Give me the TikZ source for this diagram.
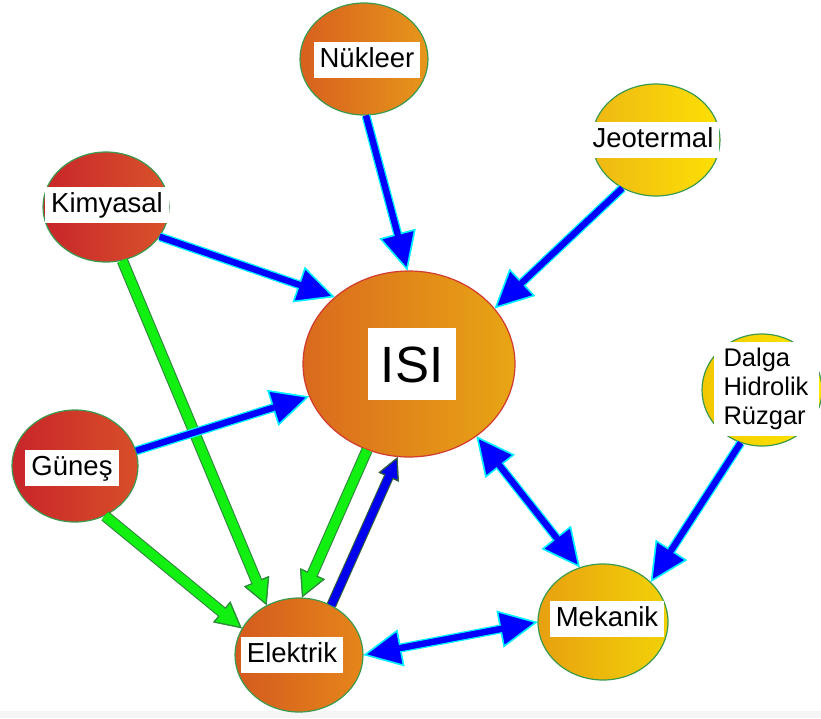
\documentclass[tikz,border=0pt]{standalone}
\usepackage{fontspec}
\setmainfont{Liberation Sans}
\usetikzlibrary{shapes.geometric,arrows.meta}
\definecolor{cgreen}{HTML}{3C9A50}
\definecolor{cred}{HTML}{D03A30}
\definecolor{agreen}{HTML}{11F011}
\definecolor{gdark}{HTML}{2E8B3C}
\definecolor{dblue}{HTML}{0000EE}
\definecolor{dkout}{HTML}{2F5F3F}
\definecolor{bblue}{HTML}{0000FF}
\definecolor{bcyan}{HTML}{00F0FF}
\begin{document}
\begin{tikzpicture}[x=1pt,y=-1pt,
  circ/.style={ellipse, inner sep=0pt, draw=cgreen, line width=1.2pt},
  lbl/.style={fill=white, inner xsep=6pt, inner ysep=5pt, text height=20pt, text depth=6pt, font=\fontsize{27.5}{29}\selectfont},
  bA/.style={draw=bblue, line width=6pt,
    -{Triangle[length=38pt,width=37pt,line width=1.5pt,fill=bblue,color=bcyan]},
    preaction={draw=bcyan, line width=9pt, -{Triangle[length=38pt,width=37pt,line width=1.5pt,fill=bcyan,color=bcyan]}},
    postaction={draw=bblue, line width=6pt, -, shorten >=33pt}},
  bAA/.style={draw=bblue, line width=6pt,
    {Triangle[length=38pt,width=37pt,line width=1.5pt,fill=bblue,color=bcyan]}-{Triangle[length=38pt,width=37pt,line width=1.5pt,fill=bblue,color=bcyan]},
    preaction={draw=bcyan, line width=9pt, {Triangle[length=38pt,width=37pt,line width=1.5pt,fill=bcyan,color=bcyan]}-{Triangle[length=38pt,width=37pt,line width=1.5pt,fill=bcyan,color=bcyan]}},
    postaction={draw=bblue, line width=6pt, -, shorten >=33pt, shorten <=33pt}},
  gA/.style={draw=agreen, line width=9pt,
    -{Triangle[length=26pt,width=27pt,line width=1.2pt,fill=agreen,color=gdark]},
    preaction={draw=gdark, line width=11.5pt, -{Triangle[length=26pt,width=27pt,line width=1.2pt,fill=gdark,color=gdark]}},
    postaction={draw=agreen, line width=9pt, -, shorten >=22pt}},
  dA/.style={draw=dblue, line width=7.5pt,
    -{Triangle[length=22pt,width=22pt,line width=1.2pt,fill=dblue,color=dkout]},
    preaction={draw=dkout, line width=10pt, -{Triangle[length=22pt,width=22pt,line width=1.2pt,fill=dkout,color=dkout]}},
    postaction={draw=dblue, line width=7.5pt, -, shorten >=18pt}}
]
\useasboundingbox (0,0) rectangle (821,718);
\fill[gray!8] (0,711) rectangle (821,718);

% circles
\node[circ, minimum width=128pt, minimum height=112pt, left color={rgb,255:red,216;green,96;blue,30}, right color={rgb,255:red,230;green,150;blue,27}] (nuk) at (364,59) {};
\node[circ, minimum width=128pt, minimum height=112pt, left color={rgb,255:red,238;green,184;blue,20}, right color={rgb,255:red,253;green,224;blue,4}] (jeo) at (656,140) {};
\node[circ, minimum width=126pt, minimum height=110pt, left color={rgb,255:red,200;green,37;blue,42}, right color={rgb,255:red,217;green,83;blue,42}] (kim) at (106,207) {};
\node[circ, minimum width=126pt, minimum height=112pt, left color={rgb,255:red,200;green,37;blue,42}, right color={rgb,255:red,216;green,79;blue,40}] (gun) at (75,466) {};
\node[circ, draw=cred, minimum width=212pt, minimum height=186pt, left color={rgb,255:red,218;green,106;blue,30}, right color={rgb,255:red,232;green,166;blue,20}] (isi) at (409,364) {};
\node[circ, minimum width=120pt, minimum height=112pt, left color={rgb,255:red,242;green,200;blue,0}, right color={rgb,255:red,255;green,232;blue,0}] (dal) at (762,390) {};
\node[circ, minimum width=130pt, minimum height=116pt, left color={rgb,255:red,232;green,160;blue,16}, right color={rgb,255:red,242;green,210;blue,8}] (mek) at (603,622) {};
\node[circ, minimum width=128pt, minimum height=114pt, left color={rgb,255:red,212;green,90;blue,30}, right color={rgb,255:red,229;green,134;blue,26}] (ele) at (299,655) {};

% labels
\node[lbl] (nukT) at (367,60) {Nükleer};
\node[lbl] (jeoT) at (653,140) {Jeotermal};
\node[lbl] (kimT) at (107,205) {Kimyasal};
\node[lbl] (gunT) at (72,468) {Güneş};
\node[fill=white, inner xsep=13pt, inner ysep=18pt, text height=36pt, text depth=0pt, font=\fontsize{51}{53}\selectfont] (isiT) at (412,364) {ISI};
\node[fill=white, inner xsep=10pt, inner ysep=6pt, align=left, font=\fontsize{25.5}{29}\selectfont] (dalT) at (766,389) {Dalga\\Hidrolik\\Rüzgar};
\node[lbl] (mekT) at (607,619) {Mekanik};
\node[lbl] (eleT) at (292,655) {Elektrik};

% green arrows
\draw[gA] (kim.-73) -- (ele.123);
\draw[gA] (gun.-59) -- (ele.155);
\draw[gA] (isi.-116) -- (ele.87);
% dark blue arrow
\draw[dA] (ele.57) -- (isi.-97);
% blue arrows
\draw[bA] (nuk.-88) -- (isi.91);
\draw[bA] (jeo.235) -- (isi.33);
\draw[bA] (kim.-29) -- (isi.138);
\draw[bA] (gun.14) -- (isi.198);
\draw[bAA] (isi.-47) -- (mek.113);
\draw[bA] (dal.248) -- (mek.40);
\draw[bAA] (ele.0) -- (mek.180);
\end{tikzpicture}
\end{document}
